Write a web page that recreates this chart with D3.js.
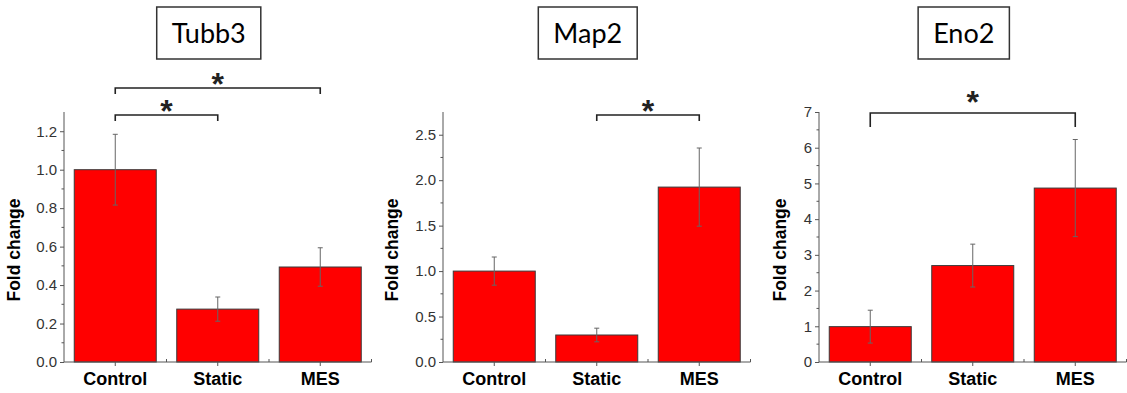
<!DOCTYPE html>
<html>
<head>
<meta charset="utf-8">
<script src="https://cdn.jsdelivr.net/npm/d3@7"></script>
<style>
	body { margin: 0; background: #fff; }
	.tick-label { font-family: "Liberation Sans", Arial, sans-serif; font-size: 15px; fill: #333; }
	.cat-label { font-family: "Liberation Sans", Arial, sans-serif; font-size: 18px; font-weight: bold; fill: #000; }
	.y-title { font-family: "Liberation Sans", Arial, sans-serif; font-size: 17.5px; font-weight: bold; fill: #000; }
	.gene { font-family: Lato, "Open Sans", sans-serif; font-size: 27px; fill: #000; }
	.star { font-family: "Liberation Sans", Arial, sans-serif; font-size: 32px; font-weight: bold; fill: #222; }
</style>
</head>
<body>
<div class="fold-change"></div>
<script>
// data
const groups = ["Control", "Static", "MES"];
const genes = ["Tubb3", "Map2", "Eno2"];

const tubb3Mean = [1.0, 0.275, 0.494];
const tubb3Err = [0.184, 0.063, 0.1];
const map2Mean = [1.0, 0.297, 1.924];
const map2Err = [0.155, 0.075, 0.43];
const eno2Mean = [0.99, 2.70, 4.87];
const eno2Err = [0.46, 0.6, 1.36];

const yMax = [1.3, 2.75, 7];
const yStep = [0.2, 0.5, 1];
const yFormat = [".1f", ".1f", "d"];

// significance pairs (group indexes)
const tubb3Sig = [[0, 2], [0, 1]];
const map2Sig = [[1, 2]];
const eno2Sig = [[0, 2]];

const panels = [
	{ gene: genes[0], mean: tubb3Mean, err: tubb3Err, sig: tubb3Sig },
	{ gene: genes[1], mean: map2Mean, err: map2Err, sig: map2Sig },
	{ gene: genes[2], mean: eno2Mean, err: eno2Err, sig: eno2Sig }
];

// layout
const axisX = [64, 443, 819];
const plotTop = 112, plotBottom = 362, plotW = 307.5;
const bracketY = [[88, 115], [115], [113]];
const bracketArm = [6, 6, 14];
const starGap = [[8, 8], [8], [15]];

const svg = d3.select(".fold-change")
	.append("svg")
	.attr("width", 1127)
	.attr("height", 393);

panels.forEach((p, i) => {
	const g = svg.append("g").attr("transform", `translate(${axisX[i]}, 0)`);

	const x = d3.scaleBand().domain(groups).range([0, plotW]).paddingInner(0.2).paddingOuter(0.1);
	const y = d3.scaleLinear().domain([0, yMax[i]]).range([plotBottom, plotTop]);

	const rows = groups.map((c, k) => ({ c, v: p.mean[k], e: p.err[k] }));

	// bars
	g.selectAll(".bar")
		.data(rows).enter()
		.append("rect")
		.attr("class", "bar")
		.attr("x", (d) => x(d.c))
		.attr("y", (d) => y(d.v))
		.attr("width", x.bandwidth())
		.attr("height", (d) => plotBottom - y(d.v))
		.style("fill", "#ff0000")
		.style("stroke", "#3a3a3a")
		.style("stroke-width", 1);

	// error bars
	const eb = g.selectAll(".err")
		.data(rows).enter()
		.append("g")
		.attr("class", "err")
		.attr("transform", (d) => `translate(${x(d.c) + x.bandwidth() / 2}, 0)`)
		.style("stroke", "#666")
		.style("stroke-width", 1);
	eb.append("line").attr("y1", (d) => y(d.v + d.e)).attr("y2", (d) => y(d.v - d.e));
	eb.append("line").attr("x1", -2.5).attr("x2", 2.5).attr("y1", (d) => y(d.v + d.e)).attr("y2", (d) => y(d.v + d.e));
	eb.append("line").attr("x1", -2.5).attr("x2", 2.5).attr("y1", (d) => y(d.v - d.e)).attr("y2", (d) => y(d.v - d.e));

	// y axis
	const major = d3.range(0, yMax[i] + 1e-9, yStep[i]);
	const minor = d3.range(yStep[i] / 2, yMax[i] + 1e-9, yStep[i]).filter((v) => y(v) > plotTop + 1);
	const ya = g.append("g").attr("class", "y-axis")
		.call(d3.axisLeft(y).tickValues(major).tickFormat(d3.format(yFormat[i])).tickSize(4).tickPadding(3));
	ya.select(".domain").attr("d", `M0,${plotTop}V${plotBottom}`).style("stroke", "#555");
	ya.selectAll(".tick line").style("stroke", "#555");
	ya.attr("font-size", null).attr("font-family", null);
	ya.selectAll(".tick text").attr("class", "tick-label");
	g.selectAll(".minor-y")
		.data(minor).enter()
		.append("line")
		.attr("x1", -2.5).attr("x2", 0)
		.attr("y1", (d) => y(d)).attr("y2", (d) => y(d))
		.style("stroke", "#555");

	// x axis
	g.append("line")
		.attr("x1", 0).attr("x2", plotW)
		.attr("y1", plotBottom).attr("y2", plotBottom)
		.style("stroke", "#555");
	g.selectAll(".x-tick")
		.data(groups).enter()
		.append("line")
		.attr("x1", (d) => x(d) + x.bandwidth() / 2).attr("x2", (d) => x(d) + x.bandwidth() / 2)
		.attr("y1", plotBottom).attr("y2", plotBottom + 4)
		.style("stroke", "#555");
	g.selectAll(".x-minor")
		.data([1, 2, 3]).enter()
		.append("line")
		.attr("x1", (d) => d * plotW / 3).attr("x2", (d) => d * plotW / 3)
		.attr("y1", plotBottom).attr("y2", plotBottom - 3)
		.style("stroke", "#555");
	g.selectAll(".cat-label")
		.data(groups).enter()
		.append("text")
		.attr("class", "cat-label")
		.attr("x", (d) => x(d) + x.bandwidth() / 2)
		.attr("y", 385)
		.attr("text-anchor", "middle")
		.text((d) => d);

	// y title
	g.append("text")
		.attr("class", "y-title")
		.attr("transform", `translate(${[-44, -45, -33][i]}, 250) rotate(-90)`)
		.attr("text-anchor", "middle")
		.text("Fold change");

	// gene title box
	const cx = plotW / 2 - 9;
	const t = g.append("text")
		.attr("class", "gene")
		.attr("x", cx)
		.attr("y", 43)
		.attr("text-anchor", "middle")
		.text(p.gene);
	const tw = t.node().getComputedTextLength();
	g.insert("rect", "text.gene")
		.attr("x", cx - tw / 2 - 15)
		.attr("y", 7)
		.attr("width", tw + 30)
		.attr("height", 52)
		.style("fill", "#fff")
		.style("stroke", "#333")
		.style("stroke-width", 1.5);

	// significance brackets
	p.sig.forEach((s, k) => {
		const x1 = x(groups[s[0]]) + x.bandwidth() / 2;
		const x2 = x(groups[s[1]]) + x.bandwidth() / 2;
		const by = bracketY[i][k];
		g.append("path")
			.attr("d", `M${x1},${by + bracketArm[i]}V${by}H${x2}V${by + bracketArm[i]}`)
			.style("fill", "none")
			.style("stroke", "#222")
			.style("stroke-width", 1.6);
		g.append("text")
			.attr("class", "star")
			.attr("x", (x1 + x2) / 2)
			.attr("y", by + 15 - starGap[i][k])
			.attr("text-anchor", "middle")
			.text("*");
	});
});
</script>
</body>
</html>
